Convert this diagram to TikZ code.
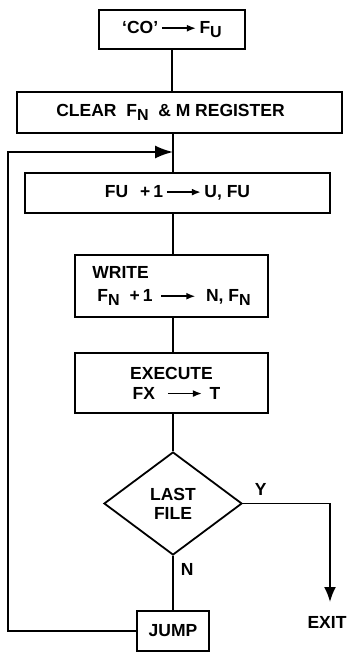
\documentclass[tikz,border=0pt]{standalone}
\usepackage{fontspec}
\setmainfont{Liberation Sans}
\usepackage{tikz}
\usetikzlibrary{positioning,shapes.geometric,arrows.meta}
\newcommand{\lowsub}[1]{\raisebox{-3.5pt}{\fontsize{16}{16}\selectfont #1}}
\newcommand{\rarr}{\tikz[baseline=-0.6ex,x=1pt,y=1pt]\draw[line width=1.5pt,-{Latex[length=9pt,width=7pt]}] (0,0) -- (34,0);}

\begin{document}
\begin{tikzpicture}[x=1pt, y=-1pt, line width=1.8pt,
    proc/.style={draw, rectangle, inner sep=0pt, font=\fontsize{17.5}{20}\selectfont\bfseries},
    decision/.style={draw, diamond, inner sep=0pt, align=center, font=\fontsize{17.5}{19}\selectfont\bfseries},
    tag/.style={font=\fontsize{17.5}{20}\selectfont\bfseries, inner sep=0pt},
    flow/.style={line width=1.8pt}]
    \useasboundingbox (0,0) rectangle (351,653);
    % boxes of the chart
    \node[proc, minimum width=146pt, minimum height=39pt] (init) at (172,29.5) {‘CO’\,\rarr\,F\lowsub{U}};
    \node[proc, minimum width=325pt, minimum height=41pt] (clear) at (179.5,112.5) {CLEAR\ \ F\lowsub{N}\ \ \& M REGISTER\kern18pt};
    \node[proc, minimum width=305pt, minimum height=40pt] (incu) at (177.5,193) {FU\hspace{12pt}+\,1\,\rarr\,U, FU};
    \node[proc, minimum width=193pt, minimum height=62pt, align=left, font=\fontsize{17.5}{23}\selectfont\bfseries] (write) at (171.5,286) {WRITE\\\hspace{5pt}F\lowsub{N}\hspace{10pt}+\,1\hspace{8pt}\rarr\hspace{10pt}N, F\lowsub{N}};
    \node[proc, minimum width=193pt, minimum height=60pt, align=center, font=\fontsize{17.5}{20}\selectfont\bfseries] (exec) at (171.5,383) {EXECUTE\\\hspace{10pt}FX\hspace{12pt}\rarr\hspace{7pt}T};
    \node[decision, minimum width=138pt, minimum height=103pt] (last) at (173,503.5) {LAST\\FILE};
    \node[proc, minimum width=72pt, minimum height=40pt] (jump) at (173,631) {JUMP};
    \node[tag] (exit) at (327,622) {EXIT};
    \coordinate (merge) at (173,152);
    \coordinate (loopturn) at (8,152);
    \coordinate (exitend) at (330,602);
    % connectors
    \draw[flow] (init.south) -- (init.south |- clear.north);
    \draw[flow] (merge |- clear.south) -- (merge |- incu.north);
    \draw[flow] (merge |- incu.south) -- (merge |- write.north);
    \draw[flow] (merge |- write.south) -- (merge |- exec.north);
    \draw[flow] (merge |- exec.south) -- (last.north);
    \draw[flow] (last.south) -- (last.south |- jump.north) node[tag, pos=0.25, right=7pt] {N};
    \draw[flow, -{Latex[length=15pt,width=12pt]}] (last.east) node[tag, above right=7pt and 11pt] {Y} -| (exitend);
    \draw[flow, -{Latex[length=18pt,width=13pt]}] (jump.west) -| (loopturn) -- (merge);
\end{tikzpicture}
\end{document}
